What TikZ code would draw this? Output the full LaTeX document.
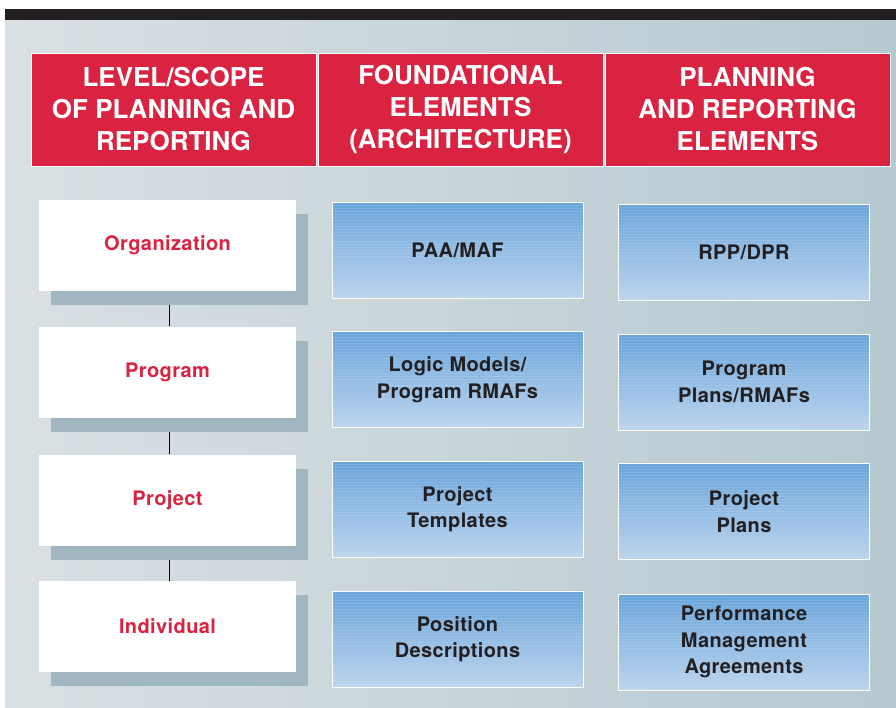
\documentclass[tikz,border=0pt]{standalone}
\usepackage{fontspec}
\setmainfont{TeX Gyre Heros}
\newfontfamily\boxfont[LetterSpace=2]{TeX Gyre Heros}
\usetikzlibrary{shadows}

\definecolor{headred}{RGB}{218,35,64}
\definecolor{panelleft}{RGB}{217,224,228}
\definecolor{panelright}{RGB}{183,201,208}
\definecolor{shadowgray}{RGB}{160,182,192}
\definecolor{bluetop}{RGB}{104,164,218}
\definecolor{bluebottom}{RGB}{190,213,238}
\definecolor{inkdark}{RGB}{35,31,32}

\tikzset{
  header/.style={fill=headred, draw=white, line width=0.8pt, text=white,
    minimum width=285pt, minimum height=113pt, inner sep=0pt, align=center,
    font=\fontsize{26}{32}\selectfont\bfseries},
  level/.style={fill=white, text=headred, minimum width=257pt, minimum height=91pt,
    inner sep=0pt, font=\boxfont\fontsize{20}{26}\selectfont\bfseries,
    drop shadow={shadow xshift=12pt, shadow yshift=-14pt, fill=shadowgray, opacity=1}},
  element/.style={top color=bluetop, bottom color=bluebottom, draw=white, line width=0.8pt,
    text=inkdark, minimum width=251pt, minimum height=96pt, inner sep=0pt, align=center,
    font=\boxfont\fontsize{20}{26.5}\selectfont\bfseries,
    path picture={
      \foreach \k in {1,...,18}
        \draw[white, opacity=0.12, line width=1pt]
          ([yshift=-\k*3pt]path picture bounding box.north west) --
          ([yshift=-\k*3pt]path picture bounding box.north east);
    }},
  link/.style={draw=black, line width=0.8pt}
}

\begin{document}
\begin{tikzpicture}[x=1pt, y=-1pt]
  \useasboundingbox (0,0) rectangle (896,707);

  % panel and top rule
  \fill[left color=panelleft, right color=panelright] (5,20) rectangle (896,707);
  \fill[inkdark] (5,9) rectangle (896,20);

  % column heads
  \node[header] (headlevel) at (173.5,109.5) {LEVEL/SCOPE\\OF PLANNING AND\\REPORTING};
  \node[header] (headfound) at (460.5,109.5) {FOUNDATIONAL\\ELEMENTS\\(ARCHITECTURE)};
  \node[header] (headplan) at (747.5,109.5) {PLANNING\\AND REPORTING\\ELEMENTS};

  % levels
  \node[level] (org) at (167.5,245.5) {Organization};
  \node[level] (prog) at (167.5,372) {Program};
  \node[level] (proj) at (167.5,500) {Project};
  \node[level] (indiv) at (167.5,626.5) {Individual};

  \draw[link] ([xshift=1.5pt,yshift=-14pt]org.south) -- ([xshift=1.5pt]prog.north);
  \draw[link] ([xshift=1.5pt,yshift=-14pt]prog.south) -- ([xshift=1.5pt]proj.north);
  \draw[link] ([xshift=1.5pt,yshift=-14pt]proj.south) -- ([xshift=1.5pt]indiv.north);

  % foundational elements
  \node[element] (paa) at (457.5,250) {PAA/MAF};
  \node[element] (logic) at (457.5,379.5) {Logic Models/\\Program RMAFs};
  \node[element] (templ) at (457.5,509) {Project\\Templates};
  \node[element] (posdesc) at (457.5,639) {Position\\Descriptions};

  % planning and reporting elements
  \node[element] (rpp) at (744,252) {RPP/DPR};
  \node[element] (progplan) at (744,382) {Program\\Plans/RMAFs};
  \node[element] (projplan) at (744,511.5) {Project\\Plans};
  \node[element] (pma) at (744,642) {Performance\\Management\\Agreements};
\end{tikzpicture}
\end{document}
